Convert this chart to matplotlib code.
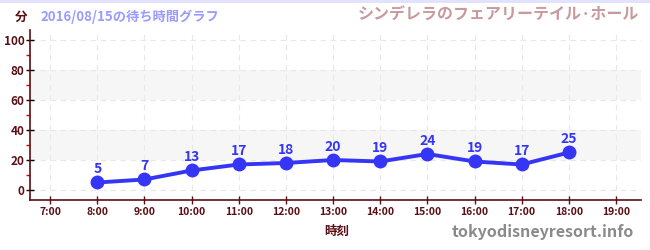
import matplotlib
matplotlib.use("Agg")
import matplotlib.pyplot as plt
from matplotlib.ticker import MultipleLocator

plt.rcParams['font.family'] = ['Noto Sans CJK JP', 'DejaVu Sans']

hours = [8, 9, 10, 11, 12, 13, 14, 15, 16, 17, 18]
waits = [5, 7, 13, 17, 18, 20, 19, 24, 19, 17, 25]
xtick_hours = list(range(7, 20))
xtick_labels = [f"{h}:00" for h in xtick_hours]
ytick_values = [0, 20, 40, 60, 80, 100]

maroon = '#5a0f14'
blue = '#3535f5'

fig = plt.figure(figsize=(6.5, 2.5), dpi=100)
ax = fig.add_axes([30/650, 1-200/250, 611/650, 170/250])

ax.set_xlim(6.575, 19.53)
ax.set_ylim(-6.67, 106.67)

for lo, hi in [(20, 40), (60, 80)]:
    ax.axhspan(lo, hi, color='#f6f6f6', zorder=0, lw=0)

ax.set_xticks(xtick_hours)
ax.set_xticklabels(xtick_labels)
ax.set_yticks(ytick_values)
ax.yaxis.set_minor_locator(MultipleLocator(10))

ax.grid(True, which='major', axis='both', color='#e8e8e8', linestyle=(0, (5, 4)), lw=0.8, zorder=0.5)

ax.plot(hours, waits, color=blue, lw=2.8, marker='o', markersize=9, zorder=3)
for h, w in zip(hours, waits):
    ax.annotate(str(w), (h, w), xytext=(0, 4.5), textcoords='offset points',
                ha='center', va='bottom', color=blue, fontsize=10, fontweight='bold')

for s in ['top', 'right']:
    ax.spines[s].set_visible(False)
ax.spines['left'].set_color(maroon)
ax.spines['bottom'].set_color(maroon)
ax.spines['left'].set_linewidth(1.2)
ax.spines['bottom'].set_linewidth(1.2)

ax.tick_params(axis='y', which='major', direction='inout', length=6, color='black', width=1,
               labelsize=8.5, labelcolor=maroon, pad=1)
ax.tick_params(axis='y', which='minor', direction='out', length=3, color='#cc0000', width=1)
ax.tick_params(axis='x', which='major', direction='inout', length=6, color=maroon, width=1,
               labelsize=7.5, labelcolor=maroon, pad=2)
for lab in ax.get_xticklabels() + ax.get_yticklabels():
    lab.set_fontweight('bold')

fig.text(337/650, 1-231/250, '時刻', ha='center', va='center', color=maroon, fontsize=9, fontweight='bold')
fig.text(21/650, 1-17/250, '分', ha='center', va='center', color=maroon, fontsize=9, fontweight='bold')
fig.text(40/650, 1-17/250, '2016/08/15の待ち時間グラフ', ha='left', va='center', color='#9a9aff', fontsize=9.5, fontweight='bold')
fig.text(639/650, 1-15/250, 'シンデレラのフェアリーテイル·ホール', ha='right', va='center', color='#c99a9c', fontsize=11.5, fontweight='bold')
fig.text(634/650, 1-232/250, 'tokyodisneyresort.info', ha='right', va='center', color='#8a8a8a', fontsize=11.5, fontweight='bold')

fig.add_artist(plt.Line2D([0, 1], [1-1/250, 1-1/250], color='#e0e0ff', lw=2, transform=fig.transFigure))

fig.savefig('out.png', dpi=100)
